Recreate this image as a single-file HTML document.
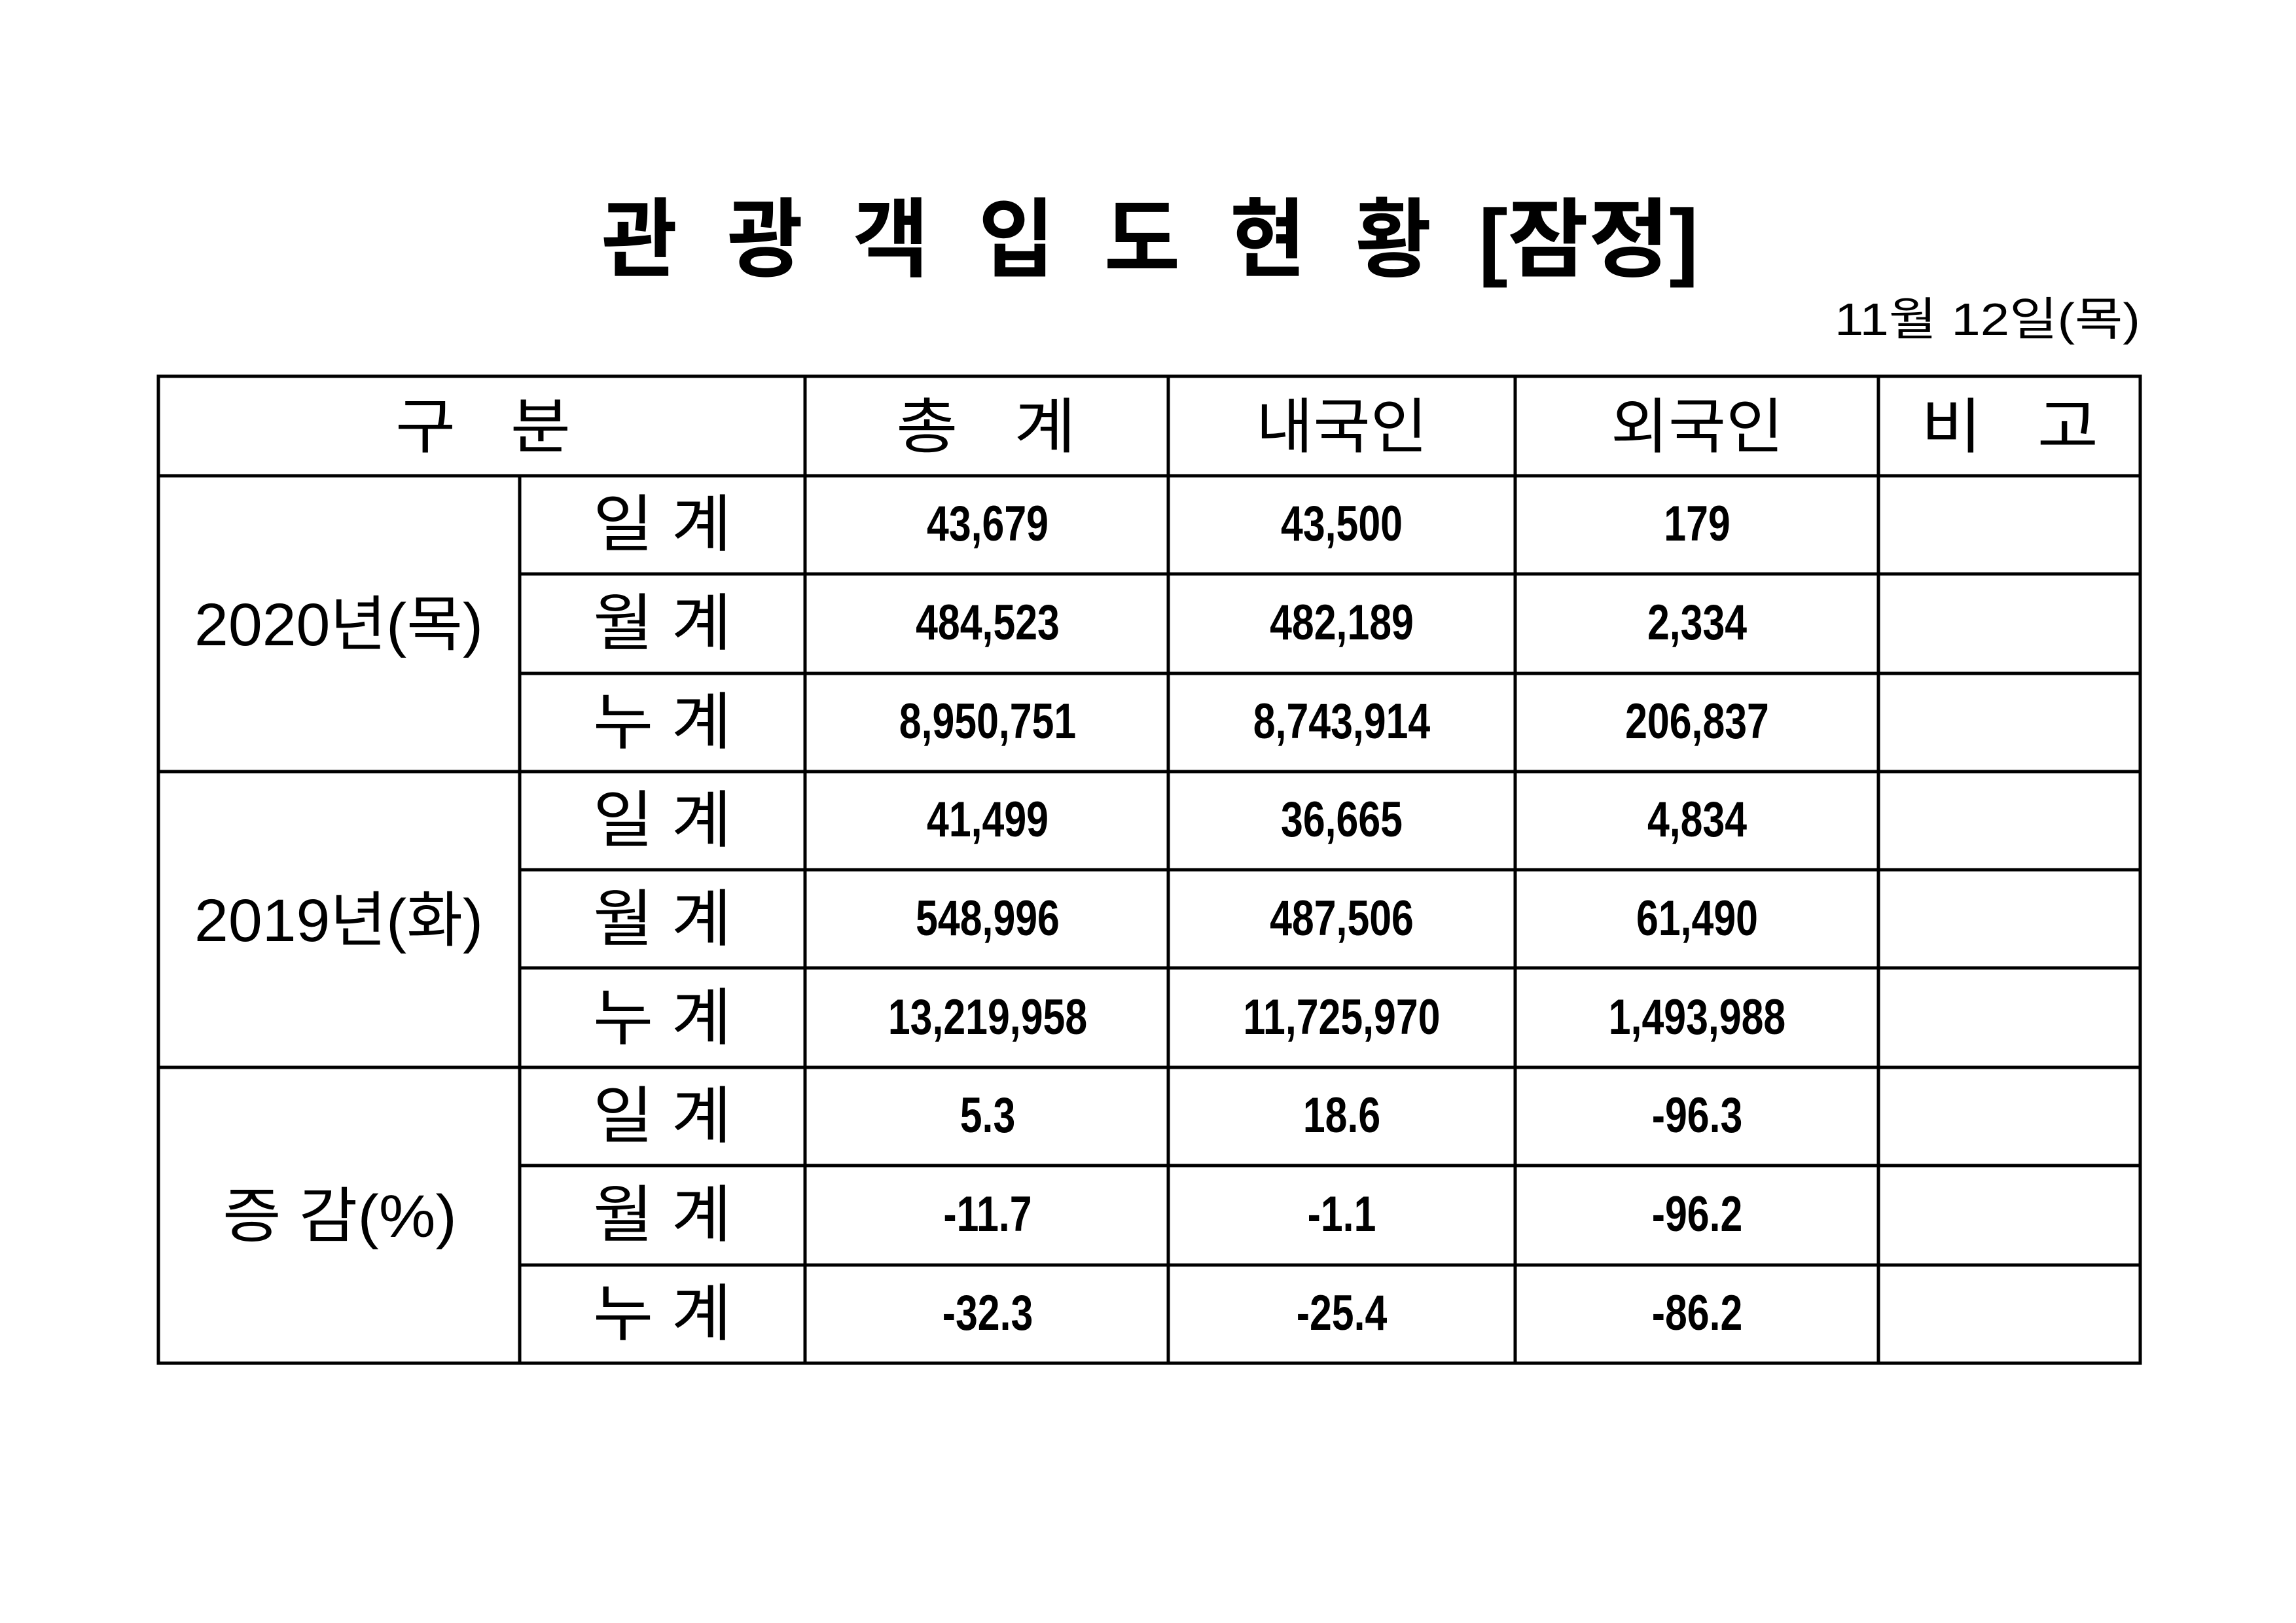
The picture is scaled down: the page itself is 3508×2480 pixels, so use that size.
<!DOCTYPE html>
<html><head><meta charset="utf-8"><style>
html,body{margin:0;padding:0;background:#fff;}
svg{display:block;}
.k{font-family:"Liberation Sans","Noto Sans CJK KR",sans-serif;}
.n{font-family:"Liberation Sans",sans-serif;font-weight:bold;font-size:76px;}
</style></head><body>
<svg width="3508" height="2480" viewBox="0 0 3508 2480" xmlns="http://www.w3.org/2000/svg">
<rect width="3508" height="2480" fill="#fff"/>
<g class="k" font-weight="bold" font-size="132" fill="#000">
<text x="919" y="412" textLength="116" lengthAdjust="spacingAndGlyphs">관</text>
<text x="1111" y="412" textLength="116" lengthAdjust="spacingAndGlyphs">광</text>
<text x="1303" y="412" textLength="116" lengthAdjust="spacingAndGlyphs">객</text>
<text x="1495" y="412" textLength="116" lengthAdjust="spacingAndGlyphs">입</text>
<text x="1687" y="412" textLength="116" lengthAdjust="spacingAndGlyphs">도</text>
<text x="1879" y="412" textLength="116" lengthAdjust="spacingAndGlyphs">현</text>
<text x="2071" y="412" textLength="116" lengthAdjust="spacingAndGlyphs">황</text>
<text x="2259" y="412" textLength="336" lengthAdjust="spacingAndGlyphs">[잠정]</text>
</g>
<text class="k" x="2803" y="512" font-size="70" textLength="467" lengthAdjust="spacingAndGlyphs">11월 12일(목)</text>
<g stroke="#000" stroke-width="5" fill="none">
<rect x="242" y="575" width="3028" height="1508"/>
<line x1="242" y1="727" x2="3270" y2="727"/>
<line x1="794" y1="877" x2="3270" y2="877"/>
<line x1="794" y1="1029" x2="3270" y2="1029"/>
<line x1="242" y1="1179" x2="3270" y2="1179"/>
<line x1="794" y1="1329" x2="3270" y2="1329"/>
<line x1="794" y1="1479" x2="3270" y2="1479"/>
<line x1="242" y1="1631" x2="3270" y2="1631"/>
<line x1="794" y1="1781" x2="3270" y2="1781"/>
<line x1="794" y1="1933" x2="3270" y2="1933"/>
<line x1="794" y1="727" x2="794" y2="2083"/>
<line x1="1230" y1="575" x2="1230" y2="2083"/>
<line x1="1785" y1="575" x2="1785" y2="2083"/>
<line x1="2315" y1="575" x2="2315" y2="2083"/>
<line x1="2870" y1="575" x2="2870" y2="2083"/>
</g>
<g class="k" font-size="92" fill="#000">
<text x="604" y="684" textLength="268" lengthAdjust="spacingAndGlyphs">구 &#160; 분</text>
<text x="1369" y="684" textLength="275" lengthAdjust="spacingAndGlyphs">총 &#160; 계</text>
<text x="1919" y="684" textLength="262" lengthAdjust="spacingAndGlyphs">내국인</text>
<text x="2461" y="684" textLength="264" lengthAdjust="spacingAndGlyphs">외국인</text>
<text x="2935" y="684" textLength="271" lengthAdjust="spacingAndGlyphs">비 &#160; 고</text>
<text x="297" y="986" textLength="441" lengthAdjust="spacingAndGlyphs">2020년(목)</text>
<text x="297" y="1438" textLength="441" lengthAdjust="spacingAndGlyphs">2019년(화)</text>
<text x="340" y="1890" textLength="358" lengthAdjust="spacingAndGlyphs">증 감(%)</text>
</g>
<g class="k" font-size="95" fill="#000">
<text x="906" y="834" textLength="212" lengthAdjust="spacingAndGlyphs">일 계</text>
<text x="906" y="985" textLength="212" lengthAdjust="spacingAndGlyphs">월 계</text>
<text x="906" y="1136" textLength="212" lengthAdjust="spacingAndGlyphs">누 계</text>
<text x="906" y="1286" textLength="212" lengthAdjust="spacingAndGlyphs">일 계</text>
<text x="906" y="1437" textLength="212" lengthAdjust="spacingAndGlyphs">월 계</text>
<text x="906" y="1588" textLength="212" lengthAdjust="spacingAndGlyphs">누 계</text>
<text x="906" y="1738" textLength="212" lengthAdjust="spacingAndGlyphs">일 계</text>
<text x="906" y="1889" textLength="212" lengthAdjust="spacingAndGlyphs">월 계</text>
<text x="906" y="2040" textLength="212" lengthAdjust="spacingAndGlyphs">누 계</text>
</g>
<g class="n" text-anchor="middle" fill="#000">
<g transform="translate(1509,0) scale(0.8,1)">
<text x="0" y="826">43,679</text><text x="0" y="977">484,523</text><text x="0" y="1128">8,950,751</text>
<text x="0" y="1278">41,499</text><text x="0" y="1429">548,996</text><text x="0" y="1580">13,219,958</text>
<text x="0" y="1730">5.3</text><text x="0" y="1881">-11.7</text><text x="0" y="2032">-32.3</text>
</g>
<g transform="translate(2050,0) scale(0.8,1)">
<text x="0" y="826">43,500</text><text x="0" y="977">482,189</text><text x="0" y="1128">8,743,914</text>
<text x="0" y="1278">36,665</text><text x="0" y="1429">487,506</text><text x="0" y="1580">11,725,970</text>
<text x="0" y="1730">18.6</text><text x="0" y="1881">-1.1</text><text x="0" y="2032">-25.4</text>
</g>
<g transform="translate(2593,0) scale(0.8,1)">
<text x="0" y="826">179</text><text x="0" y="977">2,334</text><text x="0" y="1128">206,837</text>
<text x="0" y="1278">4,834</text><text x="0" y="1429">61,490</text><text x="0" y="1580">1,493,988</text>
<text x="0" y="1730">-96.3</text><text x="0" y="1881">-96.2</text><text x="0" y="2032">-86.2</text>
</g>
</g>
</svg>
</body></html>
